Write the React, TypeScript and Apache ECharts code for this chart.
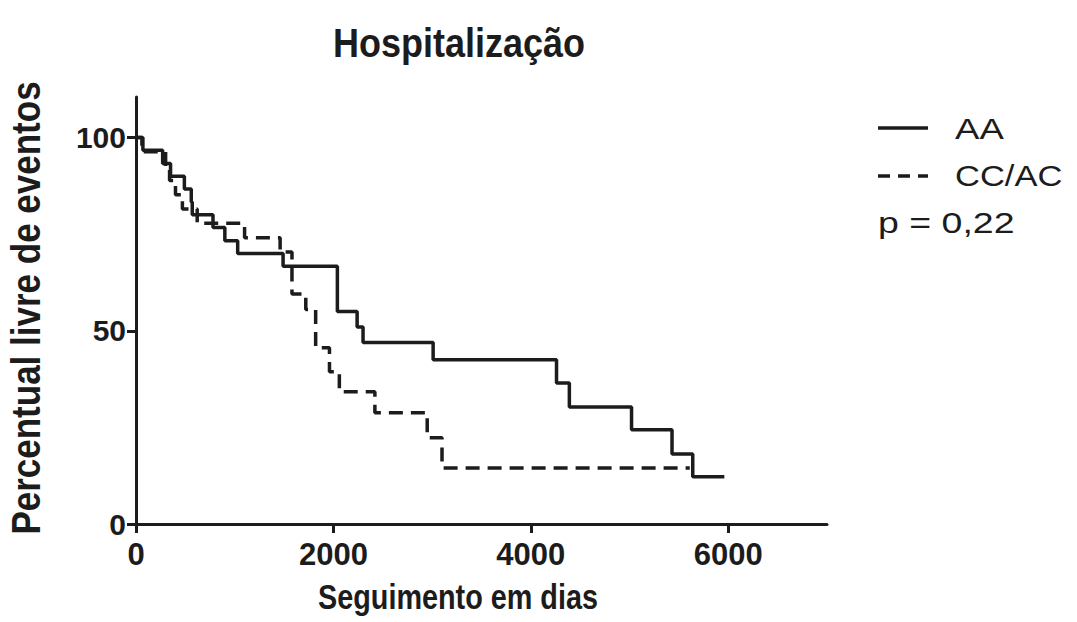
import React, { useEffect, useRef } from "react";
import * as echarts from "echarts";

const aaTimes = [0, 70, 270, 350, 490, 560, 570, 780, 900, 1030, 1490, 2040, 2240, 2300, 3010, 4260, 4390, 5020, 5430, 5640, 5960];
const aaSurv = [100, 96.7, 93.3, 90, 86.7, 83.3, 80, 76.7, 73.3, 70, 66.7, 55, 51, 47, 42.5, 36.5, 30.3, 24.4, 18.1, 12.2, 12.2];

const ccTimes = [0, 60, 300, 340, 400, 470, 620, 1100, 1460, 1580, 1720, 1820, 1960, 2060, 2420, 2950, 3100, 5610];
const ccSurv = [100, 96.3, 92.6, 88.9, 85.2, 81.5, 77.8, 74.1, 70.4, 59.5, 55.5, 45.6, 39.4, 34.2, 28.8, 22.3, 14.5, 14.5];

const xTicks = [0, 2000, 4000, 6000];
const yTicks = [0, 50, 100];

const titleText = "Hospitalização";
const xName = "Seguimento em dias";
const yName = "Percentual livre de eventos";
const seriesNames = ["AA", "CC/AC"];
const pText = "p = 0,22";

const INK = "#1c1c1c";
const FONT = "'Liberation Sans', Arial, Helvetica, sans-serif";

export default function App() {
  const ref = useRef<HTMLDivElement>(null);
  useEffect(() => {
    if (!ref.current) return;
    const chart = echarts.init(ref.current, null, { renderer: "svg" });
    const aaData = aaTimes.map((t, i) => [t, aaSurv[i]]);
    const ccData = ccTimes.map((t, i) => [t, ccSurv[i]]);
    chart.setOption({
      animation: false,
      backgroundColor: "#ffffff",
      grid: { left: 136, right: 250, top: 97, bottom: 98, containLabel: false },
      xAxis: {
        type: "value",
        min: 0,
        max: 7000,
        interval: 1000,
        splitLine: { show: false },
        axisLine: { lineStyle: { color: INK, width: 3 } },
        axisTick: { show: true, length: 9, lineStyle: { color: INK, width: 3 }, customValues: xTicks },
        axisLabel: {
          customValues: xTicks,
          formatter: (v: number) => String(v),
          color: INK,
          fontFamily: FONT,
          fontWeight: "bold",
          fontSize: 31,
          margin: 15,
        },
      },
      yAxis: {
        type: "value",
        min: 0,
        max: 110.5,
        interval: 50,
        splitLine: { show: false },
        axisLine: { show: true, lineStyle: { color: INK, width: 3 } },
        axisTick: { show: true, length: 9, lineStyle: { color: INK, width: 3 }, customValues: yTicks },
        axisLabel: {
          customValues: yTicks,
          formatter: (v: number) => String(v),
          color: INK,
          fontFamily: FONT,
          fontWeight: "bold",
          fontSize: 30,
          margin: 10,
        },
      },
      series: [
        {
          name: seriesNames[0],
          type: "line",
          step: "end",
          data: aaData,
          symbol: "none",
          lineStyle: { color: INK, width: 3.5 },
        },
        {
          name: seriesNames[1],
          type: "line",
          step: "end",
          data: ccData,
          symbol: "none",
          lineStyle: { color: INK, width: 3.5, type: [14, 8] },
        },
      ],
      graphic: [
        {
          type: "text",
          x: 459,
          y: 43,
          scaleX: 0.9,
          style: {
            text: titleText,
            fill: INK,
            font: `bold 40px ${FONT}`,
            textAlign: "center",
            textVerticalAlign: "middle",
          },
        },
        {
          type: "text",
          x: 458,
          y: 596,
          scaleX: 0.8,
          style: {
            text: xName,
            fill: INK,
            font: `bold 36px ${FONT}`,
            textAlign: "center",
            textVerticalAlign: "middle",
          },
        },
        {
          type: "text",
          x: 26,
          y: 308,
          rotation: Math.PI / 2,
          scaleX: 0.875,
          style: {
            text: yName,
            fill: INK,
            font: `bold 40px ${FONT}`,
            textAlign: "center",
            textVerticalAlign: "middle",
          },
        },
        {
          type: "line",
          shape: { x1: 878, y1: 128, x2: 928, y2: 128 },
          style: { stroke: INK, lineWidth: 3.5 },
        },
        {
          type: "line",
          shape: { x1: 878, y1: 176, x2: 928, y2: 176 },
          style: { stroke: INK, lineWidth: 3.5, lineDash: [12, 8] },
        },
        {
          type: "text",
          x: 955,
          y: 129,
          scaleX: 1.22,
          style: { text: seriesNames[0], fill: INK, font: `30px ${FONT}`, textVerticalAlign: "middle" },
        },
        {
          type: "text",
          x: 955,
          y: 176,
          scaleX: 1.15,
          style: { text: seriesNames[1], fill: INK, font: `30px ${FONT}`, textVerticalAlign: "middle" },
        },
        {
          type: "text",
          x: 878,
          y: 222,
          scaleX: 1.25,
          style: { text: pText, fill: INK, font: `30px ${FONT}`, textVerticalAlign: "middle" },
        },
      ],
    });
    return () => chart.dispose();
  }, []);
  return (
    <div
      ref={ref}
      style={{ position: "fixed", left: 0, top: 0, width: 1077, height: 622, background: "#fff" }}
    />
  );
}
